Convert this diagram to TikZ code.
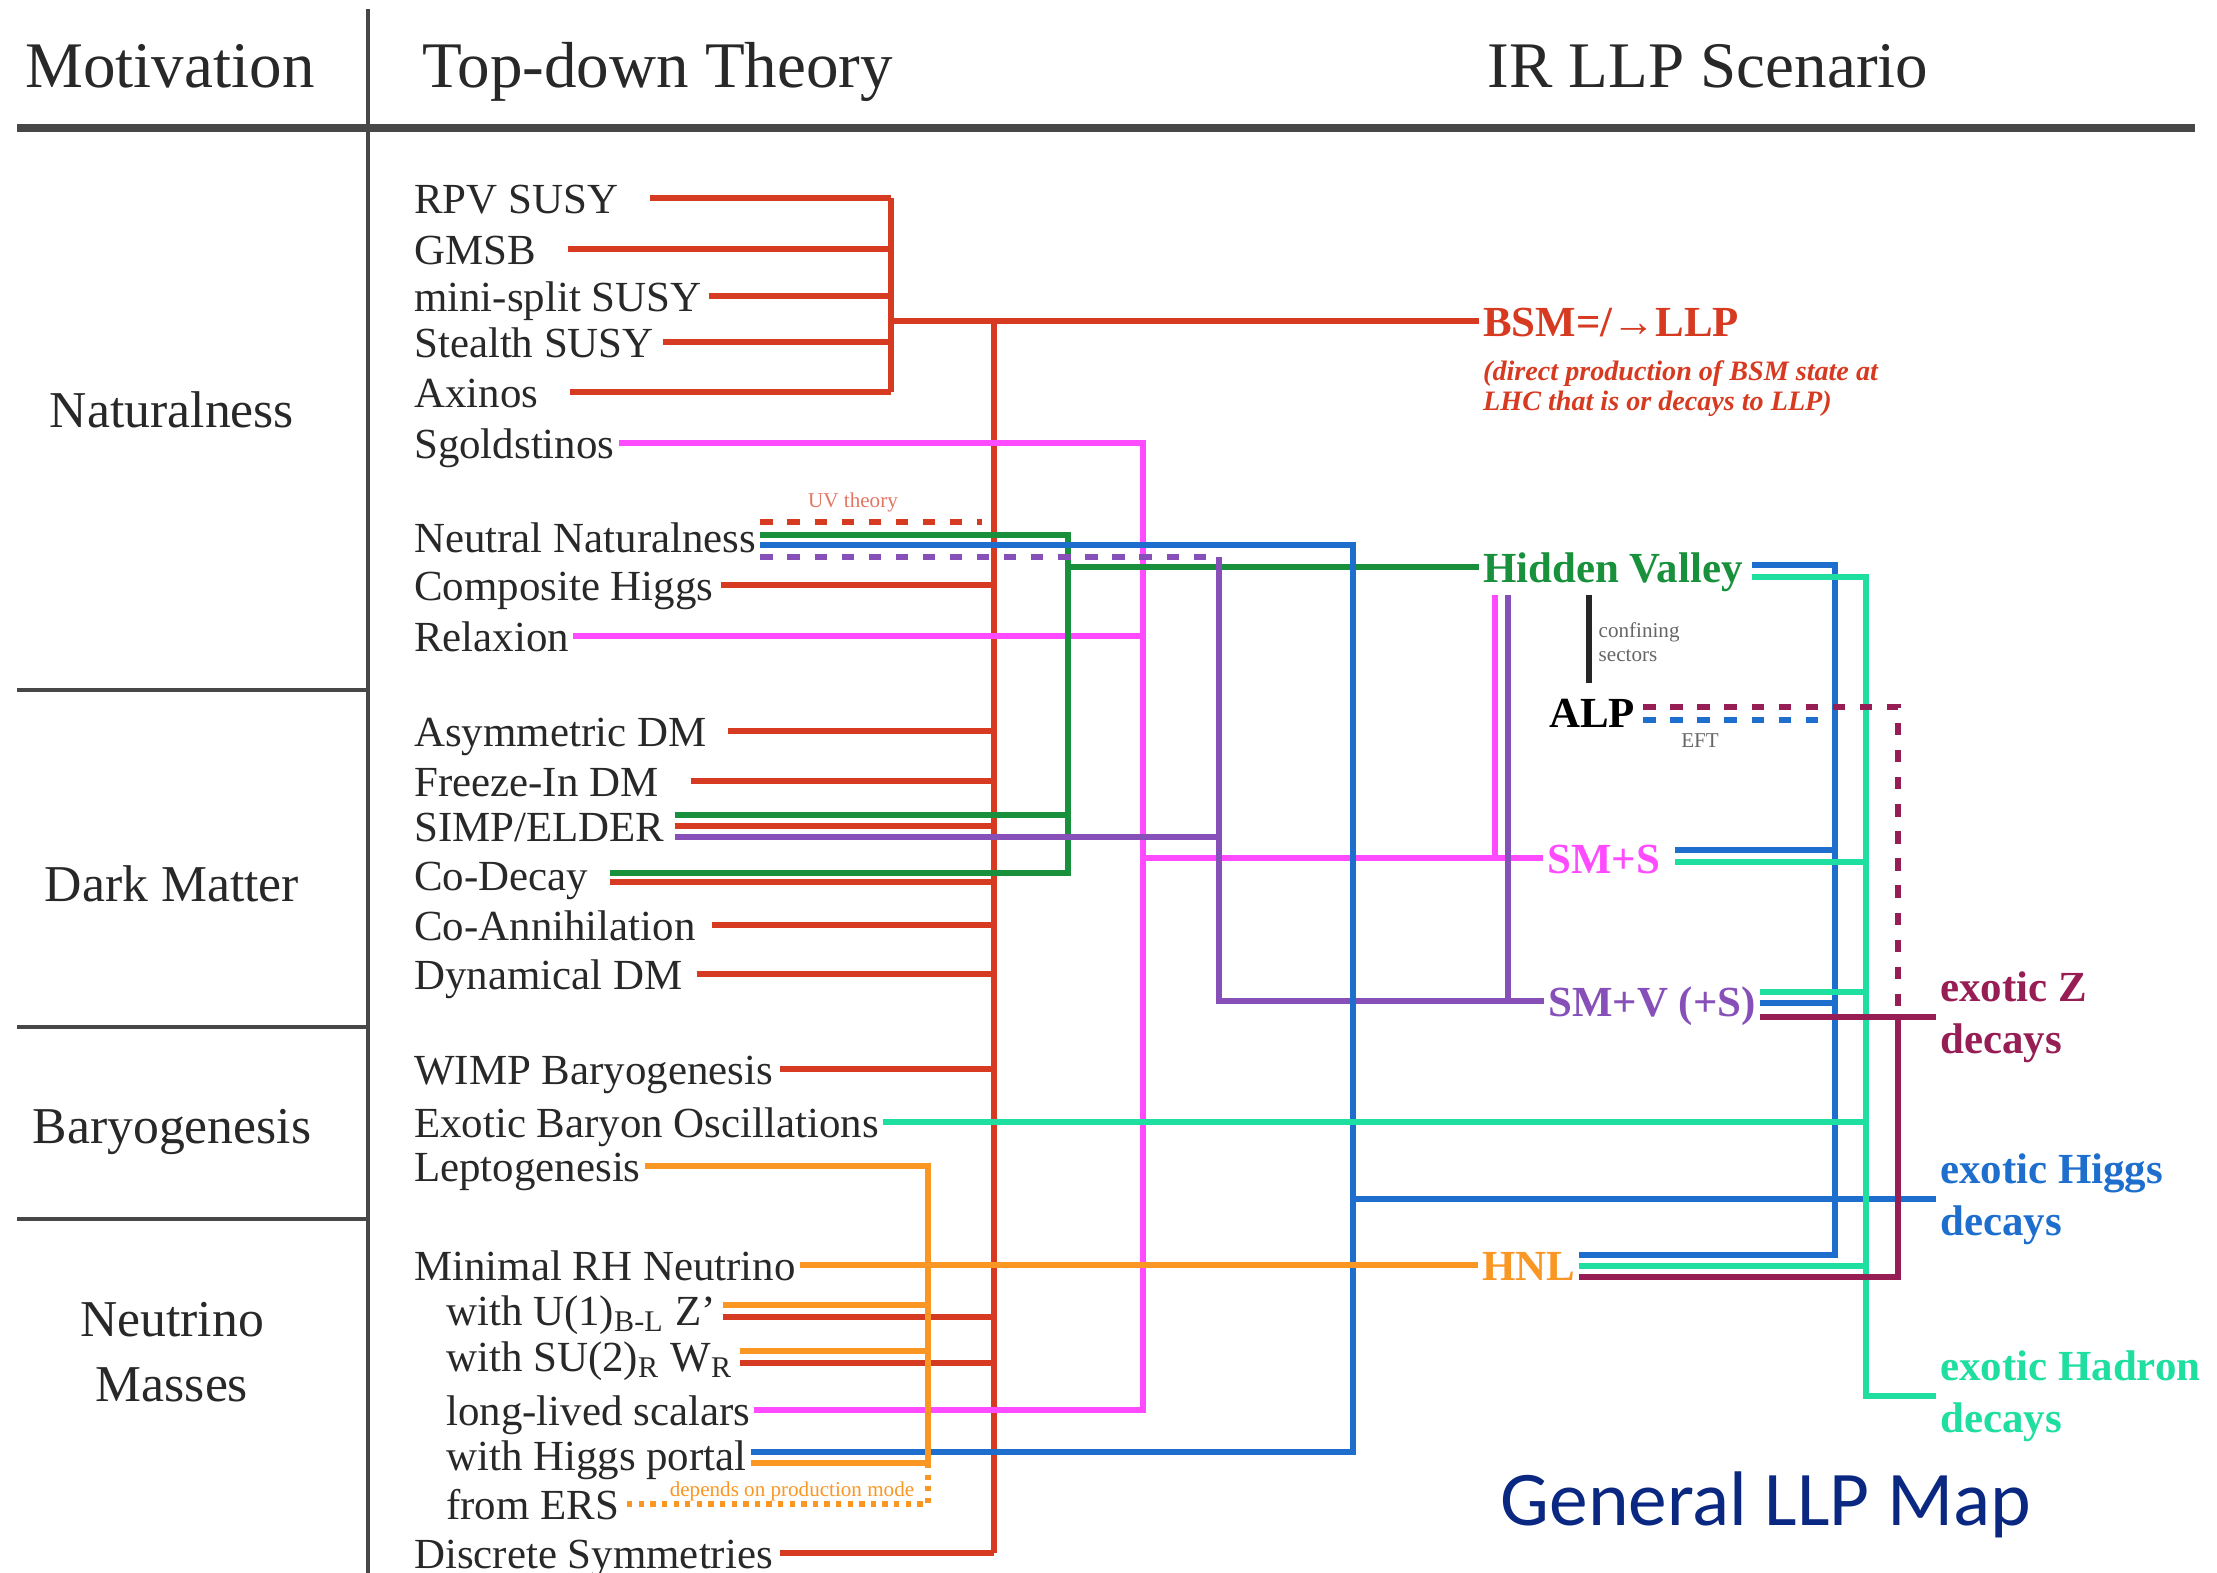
\documentclass[tikz,border=0pt]{standalone}
\usepackage{fontspec}
\setmainfont{Liberation Serif}
\newfontfamily\mapfont{Carlito}
\usetikzlibrary{calc}
\definecolor{llpred}{RGB}{214,58,32}
\definecolor{llppink}{RGB}{255,75,255}
\definecolor{llpgreen}{RGB}{25,145,60}
\definecolor{llpblue}{RGB}{30,110,205}
\definecolor{llppurple}{RGB}{135,80,185}
\definecolor{llporange}{RGB}{250,150,35}
\definecolor{llpteal}{RGB}{30,222,160}
\definecolor{llpmaroon}{RGB}{150,30,85}
\definecolor{llpnavy}{RGB}{10,40,130}
\definecolor{llptext}{RGB}{40,40,40}
\begin{document}
\begin{tikzpicture}
		[x=0.01cm,y=-0.01cm,
		item/.style={anchor=west,inner sep=1pt,text height=8.8pt,text depth=0pt,text=llptext,font=\fontsize{12.2}{14}\selectfont},
		cat/.style={align=center,text=llptext,font=\fontsize{14.7}{18.5}\selectfont},
		head/.style={anchor=base west,text=llptext,font=\fontsize{18.5}{22}\selectfont},
		scen/.style={anchor=west,inner sep=1pt,text height=8.8pt,text depth=0pt,font=\bfseries\fontsize{12.2}{14}\selectfont},
		decay/.style={anchor=west,align=left,inner sep=1pt,font=\bfseries\fontsize{12.2}{14.8}\selectfont},
		small/.style={inner sep=0pt,font=\fontsize{6}{7}\selectfont},
		rule/.style={draw=black!72,line width=1.3pt},
		wire/.style={line width=1.7pt},
		dashwire/.style={line width=1.7pt,dash pattern=on 3.5pt off 4.2pt},
		dotwire/.style={line width=1.5pt,dash pattern=on 1.5pt off 1.8pt}]
		\useasboundingbox (0,0) rectangle (2217,1573);
		\node[head,anchor=base] (mot) at (170,88) {Motivation};
		\node[head] (tdt) at (410,88) {Top-down Theory};
		\node[head] (irs) at (1475,88) {IR LLP Scenario};
		\draw[rule,line width=2pt] (17,128) -- (2195,128);
		\draw[draw=black!72,line width=0.9pt] (368,9) -- (368,1573);
		\foreach \y in {690,1027,1219}
		{
			\draw[rule] (17,\y) -- (368,\y);
		}
		\node[cat] (nat) at (172,410) {Naturalness};
		\node[cat] (dm) at (172,884) {Dark Matter};
		\node[cat] (bary) at (172,1132) {Baryogenesis};
		\node[cat] (numass) at (172,1352) {Neutrino\\Masses};
		\node[item] (rpv) at (410,198) {RPV SUSY};
		\node[item] (gmsb) at (410,249) {GMSB};
		\node[item] (minisplit) at (410,296) {mini-split SUSY};
		\node[item] (stealth) at (410,342) {Stealth SUSY};
		\node[item] (axinos) at (410,392) {Axinos};
		\node[item] (sgold) at (410,443) {Sgoldstinos};
		\node[item] (neutnat) at (410,537) {Neutral Naturalness};
		\node[item] (comphiggs) at (410,585) {Composite Higgs};
		\node[item] (relaxion) at (410,636) {Relaxion};
		\node[item] (asymdm) at (410,731) {Asymmetric DM};
		\node[item] (freezein) at (410,781) {Freeze-In DM};
		\node[item] (simp) at (410,826) {SIMP/ELDER};
		\node[item] (codecay) at (410,875) {Co-Decay};
		\node[item] (coann) at (410,925) {Co-Annihilation};
		\node[item] (dyndm) at (410,974) {Dynamical DM};
		\node[item] (wimp) at (410,1069) {WIMP Baryogenesis};
		\node[item] (ebo) at (410,1122) {Exotic Baryon Oscillations};
		\node[item] (lepto) at (410,1166) {Leptogenesis};
		\node[item] (minrh) at (410,1265) {Minimal RH Neutrino};
		\node[item] (ubl) at (442,1310) {with U(1)\textsubscript{B-L} Z’};
		\node[item] (sur) at (442,1356) {with SU(2)\textsubscript{R} W\textsubscript{R}};
		\node[item] (llscal) at (442,1410) {long-lived scalars};
		\node[item] (hportal) at (442,1455) {with Higgs portal};
		\node[item] (ers) at (442,1504) {from ERS};
		\node[item] (discrete) at (410,1553) {Discrete Symmetries};
		\node[scen,text=llpred] (bsm) at (1479,321) {BSM=/→LLP};
		\node[anchor=north west,inner sep=1pt,align=left,text=llpred,font=\bfseries\itshape\fontsize{8}{8.6}\selectfont] (bsmnote) at (1479,356) {(direct production of BSM state at\\LHC that is or decays to LLP)};
		\node[scen,text=llpgreen] (hv) at (1479,567) {Hidden Valley};
		\node[scen,text=black] (alp) at (1545,712) {ALP};
		\node[scen,text=llppink] (sms) at (1543,858) {SM+S};
		\node[scen,text=llppurple] (smv) at (1544,1001) {SM+V (+S)};
		\node[scen,text=llporange] (hnl) at (1478,1265) {HNL};
		\node[decay,text=llpmaroon] (exz) at (1936,1017) {exotic Z\\decays};
		\node[decay,text=llpblue] (exh) at (1936,1199) {exotic Higgs\\decays};
		\node[decay,text=llpteal] (exhad) at (1936,1396) {exotic Hadron\\decays};
		\node[anchor=west,inner sep=0pt,text=llpnavy,font=\mapfont\fontsize{22}{26}\selectfont] (title) at (1500,1505) {General LLP Map};
		\node[small,text=llpred!70] (uvlabel) at (853,502) {UV theory};
		\node[small,anchor=west,align=left,text=black!60] (conflabel) at (1598,642) {confining\\sectors};
		\node[small,text=black!60] (eftlabel) at (1700,741) {EFT};
		\node[small,text=llporange] (prodlabel) at (792,1491) {depends on production mode};
		\coordinate (susybus) at (891,321);
		\coordinate (redbus) at (994,321);
		\coordinate (orangebus) at (928,1166);
		\coordinate (greenbus) at (1068,535);
		\coordinate (pinkbus) at (1143,443);
		\coordinate (purplebus) at (1219,557);
		\coordinate (bluebus) at (1353,545);
		\coordinate (higgsbus) at (1835,565);
		\coordinate (hadbus) at (1866,577);
		\coordinate (zbus) at (1898,707);
		\coordinate (hvpink) at ($(hv.south west)+(16,8)$);
		\coordinate (hvpurple) at ($(hv.south west)+(29,8)$);
		\draw[line width=1.5pt,black!85] ($(hv.south -| alp.north)+(-3,8)$) -- ($(alp.north)+(-3,-9)$);
		\foreach \n/\g in {rpv/28,gmsb/28,minisplit/3,stealth/5,axinos/28}
		{
			\draw[wire,llpred] ($(\n.east)+(\g,0)$) -- (\n.east -| susybus);
		}
		\draw[wire,llpred] (rpv.east -| susybus) -- (axinos.east -| susybus);
		\draw[wire,llpred] (susybus) -- (bsm.west);
		\draw[wire,llpred] (redbus) -- (discrete.east -| redbus);
		\foreach \n/\g in {comphiggs/3,asymdm/18,freezein/28,simp/6,coann/12,dyndm/10,wimp/3,discrete/3}
		{
			\draw[wire,llpred] ($(\n.east)+(\g,0)$) -- (\n.east -| redbus);
		}
		\foreach \n/\g in {codecay/18,ubl/3,sur/3}
		{
			\draw[wire,llpred] ($(\n.east)+(\g,7)$) -- ($(\n.east -| redbus)+(0,7)$);
		}
		\draw[dashwire,llpred] ($(neutnat.east)+(0,-15)$) -- ($(neutnat.east -| redbus)+(-12,-15)$);
		\draw[wire,llppink] (sgold.east) -- (sgold.east -| pinkbus) -- (llscal.east -| pinkbus) -- (llscal.east);
		\draw[wire,llppink] (relaxion.east) -- (relaxion.east -| pinkbus);
		\draw[wire,llppink] (sms.west -| pinkbus) -- (sms.west);
		\draw[wire,llppink] (hvpink) -- (hvpink |- sms.west);
		\draw[wire,llpgreen] ($(neutnat.east)+(0,-2)$) -- ($(neutnat.east -| greenbus)+(0,-2)$) -- ($(codecay.east -| greenbus)+(0,-2)$) -- ($(codecay.east)+(18,-2)$);
		\draw[wire,llpgreen] ($(simp.east)+(6,-11)$) -- ($(simp.east -| greenbus)+(0,-11)$);
		\draw[wire,llpgreen] (hv.west -| greenbus) -- (hv.west);
		\draw[dashwire,llppurple] ($(neutnat.east)+(0,20)$) -- ($(neutnat.east -| purplebus)+(0,20)$);
		\draw[wire,llppurple] ($(neutnat.east -| purplebus)+(0,20)$) -- (smv.west -| purplebus) -- (smv.west);
		\draw[wire,llppurple] ($(simp.east)+(6,11)$) -- ($(simp.east -| purplebus)+(0,11)$);
		\draw[wire,llppurple] (hvpurple) -- (hvpurple |- smv.west);
		\draw[wire,llpblue] ($(neutnat.east)+(0,8)$) -- ($(neutnat.east -| bluebus)+(0,8)$) -- ($(hportal.east -| bluebus)+(0,-3)$) -- ($(hportal.east)+(0,-3)$);
		\draw[wire,llpblue] (exh.west -| bluebus) -- (exh.west);
		\draw[wire,llpblue] ($(hv.east)+(5,-2)$) -- ($(hv.east -| higgsbus)+(0,-2)$) -- ($(hnl.east -| higgsbus)+(0,-10)$) -- ($(hnl.east)+(0,-10)$);
		\draw[wire,llpblue] ($(sms.east)+(11,-8)$) -- ($(sms.east -| higgsbus)+(0,-8)$);
		\draw[wire,llpblue] ($(smv.east)+(0,2)$) -- ($(smv.east -| higgsbus)+(0,2)$);
		\draw[dashwire,llpblue] ($(alp.east)+(4,8)$) -- ($(alp.east -| higgsbus)+(0,8)$);
		\draw[wire,llpteal] ($(hv.east)+(5,10)$) -- ($(hv.east -| hadbus)+(0,10)$) -- (exhad.west -| hadbus) -- (exhad.west);
		\draw[wire,llpteal] ($(sms.east)+(11,4)$) -- ($(sms.east -| hadbus)+(0,4)$);
		\draw[wire,llpteal] ($(smv.east)+(0,-9)$) -- ($(smv.east -| hadbus)+(0,-9)$);
		\draw[wire,llpteal] ($(hnl.east)+(0,1)$) -- ($(hnl.east -| hadbus)+(0,1)$);
		\draw[wire,llpteal] (ebo.east) -- (ebo.east -| hadbus);
		\draw[dashwire,llpmaroon] ($(alp.east)+(4,-5)$) -- ($(alp.east -| zbus)+(0,-5)$) -- ($(smv.east -| zbus)+(0,16)$);
		\draw[wire,llpmaroon] ($(smv.east)+(0,16)$) -- (exz.west);
		\draw[wire,llpmaroon] ($(smv.east -| zbus)+(0,16)$) -- ($(hnl.east -| zbus)+(0,12)$) -- ($(hnl.east)+(0,12)$);
		\draw[wire,llporange] (lepto.east) -- (lepto.east -| orangebus) -- ($(hportal.east -| orangebus)+(0,8)$) -- ($(hportal.east)+(0,8)$);
		\draw[dotwire,llporange] ($(hportal.east -| orangebus)+(0,8)$) -- (ers.east -| orangebus) -- (ers.east);
		\foreach \n in {ubl,sur}
		{
			\draw[wire,llporange] ($(\n.east)+(3,-5)$) -- ($(\n.east -| orangebus)+(0,-5)$);
		}
		\draw[wire,llporange] (minrh.east) -- (hnl.west);
	\end{tikzpicture}
\end{document}
